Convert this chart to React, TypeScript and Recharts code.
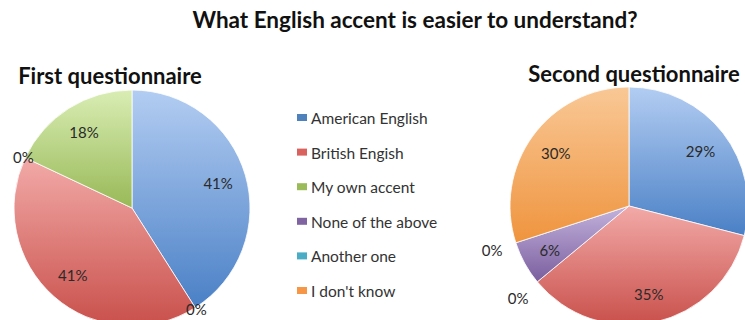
import { Pie, PieChart, Cell } from "recharts";

const categories = [
  "American English",
  "British Engish",
  "My own accent",
  "None of the above",
  "Another one",
  "I don't know",
];

// first questionnaire, slice order as drawn (zero slices sit between the others)
const firstNames = ["American English", "None of the above", "British Engish", "Another one", "My own accent"];
const firstValues = [41, 0, 41, 0, 18];

const secondNames = categories;
const secondValues = [29, 35, 0, 6, 0, 30];

const swatch: Record<string, string> = {
  "American English": "#4f81bd",
  "British Engish": "#d9625f",
  "My own accent": "#9bbb59",
  "None of the above": "#8064a2",
  "Another one": "#4bacc6",
  "I don't know": "#f79646",
};

const grad: Record<string, [string, string]> = {
  "American English": ["#b3cdf2", "#4a80c6"],
  "British Engish": ["#f2aaa8", "#c9504b"],
  "My own accent": ["#d9edb4", "#98b957"],
  "None of the above": ["#c4b3dd", "#7a5e9e"],
  "Another one": ["#a8dcea", "#45a5c0"],
  "I don't know": ["#f9c896", "#ef943e"],
};

const gid = (n: string) => "g" + categories.indexOf(n);

const firstData = firstNames.map((name, i) => ({ name, value: firstValues[i] }));
const secondData = secondNames.map((name, i) => ({ name, value: secondValues[i] }));

const RAD = Math.PI / 180;
const FONT = "Lato, 'Open Sans', sans-serif";

// zero slices get their label just outside the rim, the rest inside
const makeLabel = (outside: number) => (props: any) => {
  const { cx, cy, midAngle, outerRadius, value } = props;
  const r = value === 0 ? outerRadius + outside : outerRadius * 0.76;
  const x = cx + r * Math.cos(-midAngle * RAD);
  const y = cy + r * Math.sin(-midAngle * RAD);
  return (
    <text x={x} y={y} textAnchor="middle" dominantBaseline="central" fontSize={15} fill="#2a2a2a" fontFamily={FONT}>
      {value}%
    </text>
  );
};

export default function App() {
  return (
    <div style={{ position: "absolute", left: 0, top: 0, width: 745, height: 320, background: "#fff" }}>
      <PieChart width={745} height={320}>
        <defs>
          {categories.map((c) => (
            <linearGradient key={c} id={gid(c)} x1="0" y1="0" x2="0" y2="1">
              <stop offset="0%" stopColor={grad[c][0]} />
              <stop offset="100%" stopColor={grad[c][1]} />
            </linearGradient>
          ))}
        </defs>
        <text x={415} y={19} textAnchor="middle" dominantBaseline="central" fontSize={22.5} fontWeight={700} fill="#111" fontFamily={FONT}>
          What English accent is easier to understand?
        </text>
        <text x={110} y={75} textAnchor="middle" dominantBaseline="central" fontSize={22} fontWeight={700} fill="#111" fontFamily={FONT}>
          First questionnaire
        </text>
        <text x={634} y={73} textAnchor="middle" dominantBaseline="central" fontSize={22} fontWeight={700} fill="#111" fontFamily={FONT}>
          Second questionnaire
        </text>
        <Pie
          data={firstData}
          dataKey="value"
          nameKey="name"
          cx={127}
          cy={203}
          outerRadius={118}
          startAngle={90}
          endAngle={-270}
          stroke="#fff"
          strokeWidth={0.8}
          label={makeLabel(2)}
          labelLine={false}
          isAnimationActive={false}
        >
          {firstData.map((d) => (
            <Cell key={d.name} fill={`url(#${gid(d.name)})`} />
          ))}
        </Pie>
        <Pie
          data={secondData}
          dataKey="value"
          nameKey="name"
          cx={624}
          cy={201}
          outerRadius={119}
          startAngle={90}
          endAngle={-270}
          stroke="#fff"
          strokeWidth={0.8}
          label={makeLabel(25)}
          labelLine={false}
          isAnimationActive={false}
        >
          {secondData.map((d) => (
            <Cell key={d.name} fill={`url(#${gid(d.name)})`} />
          ))}
        </Pie>
        {categories.map((c, i) => (
          <g key={c}>
            <rect x={297} y={114 + i * 34.6} width={10} height={7} fill={swatch[c]} />
            <text x={311} y={118 + i * 34.6} dominantBaseline="central" fontSize={15.5} fill="#333" fontFamily={FONT}>
              {c}
            </text>
          </g>
        ))}
      </PieChart>
    </div>
  );
}
